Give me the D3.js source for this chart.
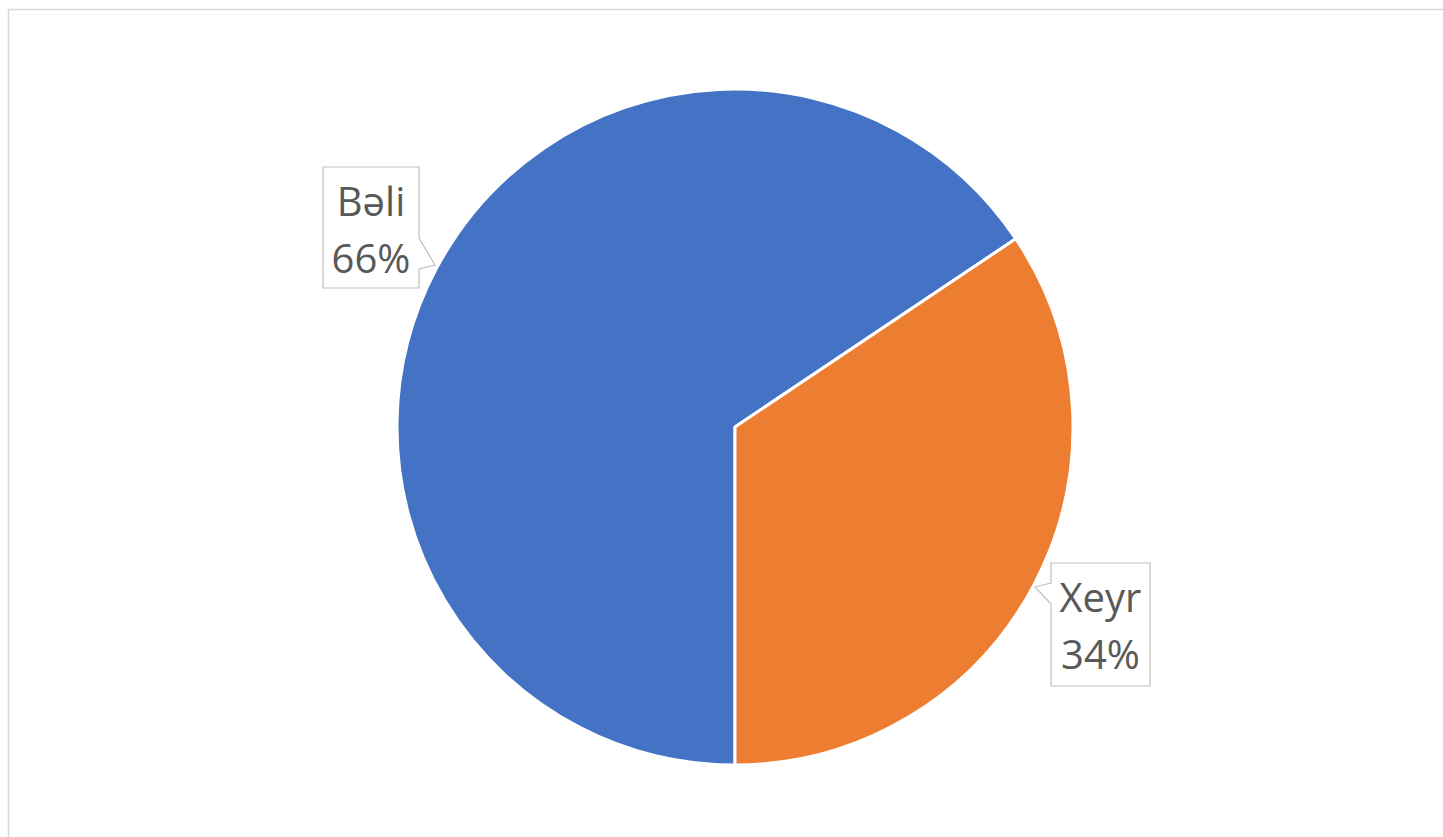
<!DOCTYPE html>
<html>
<head>
<meta charset="utf-8">
<script src="https://cdn.jsdelivr.net/npm/d3@7"></script>
<style>
  html, body { margin: 0; padding: 0; background: #ffffff; overflow: hidden; }
  svg { display: block; }
</style>
</head>
<body>
<svg id="chart" width="1443" height="837"></svg>
<script>
// Data
const categories = ["Bəli", "Xeyr"];
const values = [65.6, 34.4];
const colors = ["#4472C4", "#ED7D31"];

const W = 1443, H = 837;
const svg = d3.select("#chart");

// chart area border
svg.append("rect")
  .attr("x", 8.5).attr("y", 9.5)
  .attr("width", W + 20).attr("height", H + 20)
  .attr("fill", "#ffffff")
  .attr("stroke", "#d9d9d9").attr("stroke-width", 1.5);

const cx = 735, cy = 427, R = 338;

const pie = d3.pie().sort(null).value(d => d)
  .startAngle(Math.PI).endAngle(3 * Math.PI);
const arcs = pie(values);
const arc = d3.arc().innerRadius(0).outerRadius(R);

const g = svg.append("g").attr("transform", `translate(${cx},${cy})`);
g.selectAll("path.slice")
  .data(arcs)
  .join("path")
  .attr("class", "slice")
  .attr("d", arc)
  .attr("fill", (d, i) => colors[i])
  .attr("stroke", "#ffffff")
  .attr("stroke-width", 3)
  .attr("stroke-linejoin", "round");

// Data label callouts (layout)
const labelLayout = [
  { x0: 323, y0: 167, x1: 419, y1: 288, side: "right", p1: 238, tip: [435, 265], p2: 269 },
  { x0: 1051, y0: 563, x1: 1150, y1: 686, side: "left", p1: 583, tip: [1035, 587], p2: 604 }
];

function calloutPath(L) {
  const p = d3.path();
  if (L.side === "right") {
    p.moveTo(L.x0, L.y0);
    p.lineTo(L.x1, L.y0);
    p.lineTo(L.x1, L.p1);
    p.lineTo(L.tip[0], L.tip[1]);
    p.lineTo(L.x1, L.p2);
    p.lineTo(L.x1, L.y1);
    p.lineTo(L.x0, L.y1);
    p.closePath();
  } else {
    p.moveTo(L.x0, L.y0);
    p.lineTo(L.x1, L.y0);
    p.lineTo(L.x1, L.y1);
    p.lineTo(L.x0, L.y1);
    p.lineTo(L.x0, L.p2);
    p.lineTo(L.tip[0], L.tip[1]);
    p.lineTo(L.x0, L.p1);
    p.closePath();
  }
  return p.toString();
}

const total = d3.sum(values);
const lab = svg.selectAll("g.label")
  .data(arcs)
  .join("g")
  .attr("class", "label");

lab.append("path")
  .attr("d", (d, i) => calloutPath(labelLayout[i]))
  .attr("fill", "#ffffff")
  .attr("stroke", "#bfbfbf")
  .attr("stroke-width", 1.2);

lab.append("text")
  .attr("x", (d, i) => (labelLayout[i].x0 + labelLayout[i].x1) / 2)
  .attr("y", (d, i) => labelLayout[i].y0 + 49)
  .attr("text-anchor", "middle")
  .attr("font-family", "'Open Sans', 'Noto Sans', sans-serif")
  .attr("font-size", 40)
  .attr("fill", "#595959")
  .text((d, i) => categories[i]);

lab.append("text")
  .attr("x", (d, i) => (labelLayout[i].x0 + labelLayout[i].x1) / 2)
  .attr("y", (d, i) => labelLayout[i].y0 + 106)
  .attr("text-anchor", "middle")
  .attr("font-family", "'Open Sans', 'Noto Sans', sans-serif")
  .attr("font-size", 40)
  .attr("fill", "#595959")
  .text(d => Math.round(d.value / total * 100) + "%");
</script>
</body>
</html>
